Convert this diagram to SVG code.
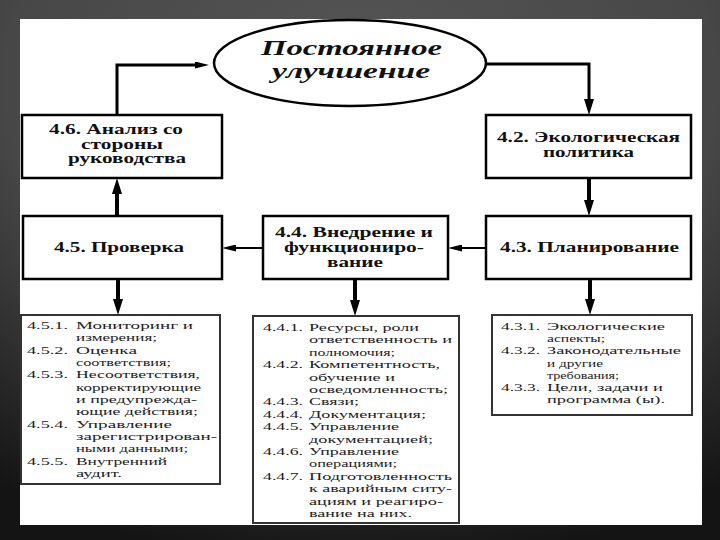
<svg xmlns="http://www.w3.org/2000/svg" width="720" height="540" viewBox="0 0 720 540">
<defs>
<radialGradient id="bg" cx="50%" cy="15%" r="90%">
<stop offset="0" stop-color="#555"/>
<stop offset="0.55" stop-color="#474747"/>
<stop offset="1" stop-color="#141414"/>
</radialGradient>
<marker id="big" markerUnits="userSpaceOnUse" markerWidth="16" markerHeight="10" refX="6" refY="5" orient="auto">
<path d="M0,0 L16,5 L0,10 z" fill="#000"/>
</marker>
<marker id="slim" markerUnits="userSpaceOnUse" markerWidth="14" markerHeight="7" refX="4" refY="3.5" orient="auto">
<path d="M0,0 L14,3.5 L0,7 z" fill="#000"/>
</marker>
<style>
.box{fill:#fff;stroke:#000;stroke-width:2.5}
.lbox{fill:#fff;stroke:#333;stroke-width:2}
.t{font-family:"Liberation Serif","DejaVu Serif",serif;font-weight:bold;font-size:15px;fill:#111}
.e{font-family:"Liberation Serif","DejaVu Serif",serif;font-weight:bold;font-style:italic;font-size:22px;fill:#111}
.l{font-family:"Liberation Serif","DejaVu Serif",serif;font-size:11px;fill:#222}
.c{fill:none;stroke:#000}
</style>
</defs>
<rect x="0" y="0" width="720" height="540" fill="url(#bg)"/>
<rect x="20" y="19" width="682" height="506" fill="#fff"/>

<g id="connectors">
<path class="c" stroke-width="3" d="M117,115 V65 H199" marker-end="url(#slim)"/>
<path class="c" stroke-width="3" d="M485,64 H589 V105" marker-end="url(#big)"/>
<path class="c" stroke-width="4" d="M589,178 V206" marker-end="url(#big)"/>
<path class="c" stroke-width="2" d="M486,248 H458" marker-end="url(#slim)"/>
<path class="c" stroke-width="2" d="M263,248 H232" marker-end="url(#slim)"/>
<path class="c" stroke-width="4" d="M117,216 V188" marker-end="url(#big)"/>
<path class="c" stroke-width="4" d="M118,279 V305" marker-end="url(#big)"/>
<path class="c" stroke-width="4" d="M355,279 V306" marker-end="url(#big)"/>
<path class="c" stroke-width="4" d="M590,279 V305" marker-end="url(#big)"/>
</g>

<g id="improvement">
<ellipse cx="350" cy="63" rx="136" ry="43" fill="#fff" stroke="#000" stroke-width="2.5"/>
<text class="e" x="261" y="55" textLength="181" lengthAdjust="spacingAndGlyphs">Постоянное</text>
<text class="e" x="272" y="78" textLength="158" lengthAdjust="spacingAndGlyphs">улучшение</text>
</g>

<g id="n46">
<rect class="box" x="22" y="115" width="200" height="63"/>
<text class="t" x="49" y="134" textLength="134" lengthAdjust="spacingAndGlyphs">4.6. Анализ со</text>
<text class="t" x="81" y="148.5" textLength="82" lengthAdjust="spacingAndGlyphs">стороны</text>
<text class="t" x="68" y="163" textLength="118" lengthAdjust="spacingAndGlyphs">руководства</text>
</g>

<g id="n42">
<rect class="box" x="486" y="115" width="205" height="63"/>
<text class="t" x="497" y="142" textLength="183" lengthAdjust="spacingAndGlyphs">4.2. Экологическая</text>
<text class="t" x="543" y="157" textLength="91" lengthAdjust="spacingAndGlyphs">политика</text>
</g>

<g id="n45">
<rect class="box" x="23" y="216" width="199" height="63"/>
<text class="t" x="54" y="252" textLength="130" lengthAdjust="spacingAndGlyphs">4.5. Проверка</text>
</g>

<g id="n44">
<rect class="box" x="263" y="216" width="185" height="63"/>
<text class="t" x="275" y="237" textLength="158" lengthAdjust="spacingAndGlyphs">4.4. Внедрение и</text>
<text class="t" x="284" y="252" textLength="140" lengthAdjust="spacingAndGlyphs">функциониро-</text>
<text class="t" x="327" y="267" textLength="56" lengthAdjust="spacingAndGlyphs">вание</text>
</g>

<g id="n43">
<rect class="box" x="486" y="216" width="205" height="63"/>
<text class="t" x="500" y="252" textLength="179" lengthAdjust="spacingAndGlyphs">4.3. Планирование</text>
</g>

<g id="n45list">
<rect class="lbox" x="21" y="315" width="199" height="169"/>
<text class="l" x="27" y="329" textLength="41" lengthAdjust="spacingAndGlyphs">4.5.1.</text>
<text class="l" x="76" y="329" textLength="117" lengthAdjust="spacingAndGlyphs">Мониторинг и</text>
<text class="l" x="76" y="341.3" textLength="81" lengthAdjust="spacingAndGlyphs">измерения;</text>
<text class="l" x="27" y="353.7" textLength="41" lengthAdjust="spacingAndGlyphs">4.5.2.</text>
<text class="l" x="76" y="353.7" textLength="61" lengthAdjust="spacingAndGlyphs">Оценка</text>
<text class="l" x="76" y="366" textLength="95" lengthAdjust="spacingAndGlyphs">соответствия;</text>
<text class="l" x="27" y="378.3" textLength="41" lengthAdjust="spacingAndGlyphs">4.5.3.</text>
<text class="l" x="76" y="378.3" textLength="124" lengthAdjust="spacingAndGlyphs">Несоответствия,</text>
<text class="l" x="76" y="390.7" textLength="125" lengthAdjust="spacingAndGlyphs">корректирующие</text>
<text class="l" x="76" y="403" textLength="121" lengthAdjust="spacingAndGlyphs">и предупрежда-</text>
<text class="l" x="76" y="415.3" textLength="122" lengthAdjust="spacingAndGlyphs">ющие действия;</text>
<text class="l" x="27" y="427.7" textLength="41" lengthAdjust="spacingAndGlyphs">4.5.4.</text>
<text class="l" x="76" y="427.7" textLength="96" lengthAdjust="spacingAndGlyphs">Управление</text>
<text class="l" x="76" y="440" textLength="141" lengthAdjust="spacingAndGlyphs">зарегистрирован-</text>
<text class="l" x="76" y="452.3" textLength="112" lengthAdjust="spacingAndGlyphs">ными данными;</text>
<text class="l" x="27" y="464.7" textLength="41" lengthAdjust="spacingAndGlyphs">4.5.5.</text>
<text class="l" x="76" y="464.7" textLength="91" lengthAdjust="spacingAndGlyphs">Внутренний</text>
<text class="l" x="76" y="477" textLength="46" lengthAdjust="spacingAndGlyphs">аудит.</text>
</g>

<g id="n44list">
<rect class="lbox" x="253" y="316" width="206" height="207"/>
<text class="l" x="263" y="331" textLength="40" lengthAdjust="spacingAndGlyphs">4.4.1.</text>
<text class="l" x="309" y="331" textLength="110" lengthAdjust="spacingAndGlyphs">Ресурсы, роли</text>
<text class="l" x="309" y="343.4" textLength="143" lengthAdjust="spacingAndGlyphs">ответственность и</text>
<text class="l" x="309" y="355.8" textLength="86" lengthAdjust="spacingAndGlyphs">полномочия;</text>
<text class="l" x="263" y="368.2" textLength="40" lengthAdjust="spacingAndGlyphs">4.4.2.</text>
<text class="l" x="309" y="368.2" textLength="131" lengthAdjust="spacingAndGlyphs">Компетентность,</text>
<text class="l" x="309" y="380.6" textLength="86" lengthAdjust="spacingAndGlyphs">обучение и</text>
<text class="l" x="309" y="393" textLength="139" lengthAdjust="spacingAndGlyphs">осведомленность;</text>
<text class="l" x="263" y="405.4" textLength="40" lengthAdjust="spacingAndGlyphs">4.4.3.</text>
<text class="l" x="309" y="405.4" textLength="50" lengthAdjust="spacingAndGlyphs">Связи;</text>
<text class="l" x="263" y="417.8" textLength="40" lengthAdjust="spacingAndGlyphs">4.4.4.</text>
<text class="l" x="309" y="417.8" textLength="117" lengthAdjust="spacingAndGlyphs">Документация;</text>
<text class="l" x="263" y="430.2" textLength="40" lengthAdjust="spacingAndGlyphs">4.4.5.</text>
<text class="l" x="309" y="430.2" textLength="90" lengthAdjust="spacingAndGlyphs">Управление</text>
<text class="l" x="309" y="442.6" textLength="124" lengthAdjust="spacingAndGlyphs">документацией;</text>
<text class="l" x="263" y="455" textLength="40" lengthAdjust="spacingAndGlyphs">4.4.6.</text>
<text class="l" x="309" y="455" textLength="90" lengthAdjust="spacingAndGlyphs">Управление</text>
<text class="l" x="309" y="467.4" textLength="88" lengthAdjust="spacingAndGlyphs">операциями;</text>
<text class="l" x="263" y="479.8" textLength="40" lengthAdjust="spacingAndGlyphs">4.4.7.</text>
<text class="l" x="309" y="479.8" textLength="143" lengthAdjust="spacingAndGlyphs">Подготовленность</text>
<text class="l" x="309" y="492.2" textLength="143" lengthAdjust="spacingAndGlyphs">к аварийным ситу-</text>
<text class="l" x="309" y="504.6" textLength="134" lengthAdjust="spacingAndGlyphs">ациям и реагиро-</text>
<text class="l" x="309" y="517" textLength="103" lengthAdjust="spacingAndGlyphs">вание на них.</text>
</g>

<g id="n43list">
<rect class="lbox" x="492" y="315" width="200" height="100"/>
<text class="l" x="501" y="330" textLength="39" lengthAdjust="spacingAndGlyphs">4.3.1.</text>
<text class="l" x="547" y="330" textLength="118" lengthAdjust="spacingAndGlyphs">Экологические</text>
<text class="l" x="547" y="342.2" textLength="58" lengthAdjust="spacingAndGlyphs">аспекты;</text>
<text class="l" x="501" y="354.4" textLength="39" lengthAdjust="spacingAndGlyphs">4.3.2.</text>
<text class="l" x="547" y="354.4" textLength="134" lengthAdjust="spacingAndGlyphs">Законодательные</text>
<text class="l" x="547" y="366.6" textLength="56" lengthAdjust="spacingAndGlyphs">и другие</text>
<text class="l" x="547" y="378.8" textLength="72" lengthAdjust="spacingAndGlyphs">требования;</text>
<text class="l" x="501" y="391" textLength="39" lengthAdjust="spacingAndGlyphs">4.3.3.</text>
<text class="l" x="547" y="391" textLength="116" lengthAdjust="spacingAndGlyphs">Цели, задачи и</text>
<text class="l" x="547" y="403.2" textLength="118" lengthAdjust="spacingAndGlyphs">программа (ы).</text>
</g>
</svg>
